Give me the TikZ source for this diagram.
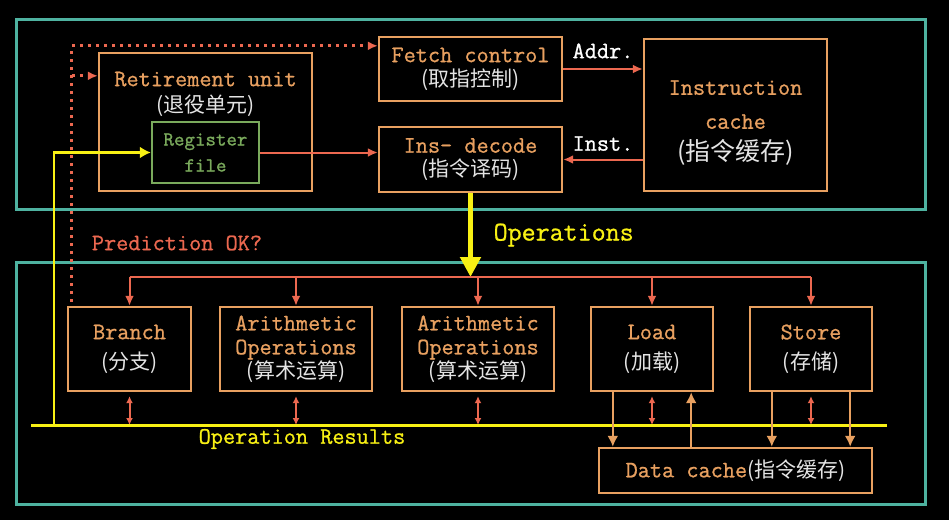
\documentclass[tikz,border=0pt]{standalone}
\usepackage{fontspec}
\setmonofont{Latin Modern Mono}[FakeBold=0.9]
\newfontfamily\cjk{Noto Sans CJK SC}
\usetikzlibrary{arrows.meta}

\definecolor{zoneteal}{RGB}{78,178,160}
\definecolor{boxorange}{RGB}{232,160,96}
\definecolor{linkred}{RGB}{236,104,80}
\definecolor{busyellow}{RGB}{248,240,20}
\definecolor{reggreen}{RGB}{122,170,92}
\definecolor{cjkgray}{RGB}{228,228,228}

\newcommand{\cntext}[2][10.5]{{\cjk\fontsize{#1}{#1}\selectfont\color{cjkgray}#2}}

\begin{document}
\begin{tikzpicture}[x=0.5pt, y=-0.5pt,
        font=\ttfamily\fontsize{11.8}{12}\selectfont,
        zone/.style={draw=zoneteal, line width=1.5pt},
        stagebox/.style={draw=boxorange, line width=1.2pt, text=boxorange, align=center, inner sep=0pt},
        regbox/.style={draw=reggreen, line width=1.2pt, text=reggreen, align=center, inner sep=0pt,
            font=\ttfamily\fontsize{10}{13}\selectfont},
        feed/.style={draw=linkred, line width=1pt, -{Latex[length=5pt,width=4.5pt]}},
        twoway/.style={draw=linkred, line width=1pt, {Latex[length=3.5pt,width=3.5pt]}-{Latex[length=3.5pt,width=3.5pt]}},
        predict/.style={draw=linkred, line width=1.5pt, dash pattern=on 1.5pt off 2.5pt, -{Latex[length=5pt,width=4.5pt]}},
        bus/.style={draw=busyellow, line width=1.5pt},
        result/.style={draw=busyellow, line width=1.2pt, -{Latex[length=5.5pt,width=6pt]}},
        mem/.style={draw=boxorange, line width=1.2pt, -{Latex[length=5.5pt,width=5.5pt]}},
        opsarrow/.style={draw=busyellow, line width=2.5pt, -{Triangle[length=10pt,width=10pt]}}
    ]
    \fill[black] (0,0) rectangle (949,520);
    \useasboundingbox (0,0) rectangle (949,520);

    % front end and back end
    \draw[zone] (16,19.5) rectangle (925,209);
    \draw[zone] (16,262) rectangle (925,504);

    \node[stagebox, minimum width=91.5pt, minimum height=32pt] (fetch) at (470.5,69)
        {Fetch control\\\cntext{(取指控制)}};
    \node[stagebox, minimum width=91.5pt, minimum height=32.5pt] (decode) at (470.5,159.5)
        {Ins- decode\\\cntext{(指令译码)}};
    \node[stagebox, minimum width=91.5pt, minimum height=76pt] (icache) at (735.5,115) {};
    \node[text=boxorange, align=center] (icachetext) at (735.5,123)
        {Instruction\\[5pt]cache\\[4pt]\cntext[12.5]{(指令缓存)}};
    \node[stagebox, minimum width=106.5pt, minimum height=69pt] (retire) at (205.5,122) {};
    \node[text=boxorange, align=center] (retiretext) at (205.5,94)
        {Retirement unit\\[1pt]\cntext{(退役单元)}};
    \node[regbox, minimum width=53.5pt, minimum height=30.5pt] (regfile) at (205.5,152.5) {Register\\file};

    % execution units
    \node[stagebox, minimum width=61.5pt, minimum height=42pt] (branch) at (129.5,349)
        {Branch\\[3pt]\cntext{(分支)}};
    \node[stagebox, minimum width=76pt, minimum height=42pt] (aluA) at (296,349)
        {Arithmetic\\Operations\\\cntext{(算术运算)}};
    \node[stagebox, minimum width=76pt, minimum height=42pt] (aluB) at (478,349)
        {Arithmetic\\Operations\\\cntext{(算术运算)}};
    \node[stagebox, minimum width=61pt, minimum height=42pt] (load) at (652,349)
        {Load\\[3pt]\cntext{(加载)}};
    \node[stagebox, minimum width=61pt, minimum height=42pt] (store) at (811,349)
        {Store\\[3pt]\cntext{(存储)}};
    \node[stagebox, minimum width=136.5pt, minimum height=22.5pt] (dcache) at (735.5,470.5)
        {Data cache\cntext{(指令缓存)}};

    \coordinate (opsend) at (470.5,277);
    \coordinate (busL) at (31,425);
    \coordinate (busR) at (887,425);
    \coordinate (tap) at (54,425);
    \coordinate (loop) at ([xshift=2.5pt,yshift=2pt]branch.north west);
    \coordinate (fetchin) at ([yshift=-5pt]fetch.north west);
    \coordinate (retirein) at ([yshift=-12pt]retire.north west);
    \coordinate (ldout) at ([xshift=11.5pt]load.south west);
    \coordinate (ldin) at ([xshift=-11.5pt]load.south east);
    \coordinate (stoutA) at ([xshift=11.5pt]store.south west);
    \coordinate (stoutB) at ([xshift=-11.5pt]store.south east);

    % prediction feedback
    \draw[predict] (loop) |- (fetchin);
    \draw[predict] (loop |- retirein) -- (retirein);
    \node[text=linkred] (predlabel) at (177,243) {Prediction OK?};

    % front end links
    \draw[result] (tap) |- (regfile.west);
    \draw[feed] (regfile.east) -- (regfile.east -| decode.west);
    \draw[feed] (fetch.east) -- (fetch.east -| icache.west)
        node[midway, above=1.5pt, text=white] {Addr.};
    \draw[feed] (decode.east -| icache.west) -- (decode.east)
        node[midway, above=0.5pt, text=white] {Inst.};
    \draw[opsarrow] (decode.south) -- (opsend)
        node[midway, right=7pt, text=busyellow, font=\ttfamily\fontsize{13.6}{14}\selectfont] {Operations};

    % dispatch and results
    \draw[draw=linkred, line width=1pt] (branch.north |- opsend) -- (store.north |- opsend);
    \foreach \u in {branch,aluA,aluB,load,store} {
        \draw[feed] (\u.north |- opsend) -- (\u.north);
        \draw[twoway] ([yshift=-2pt]\u.south) -- (\u.south |- busL);
    }
    \draw[bus] (busL) -- (busR);
    \node[text=busyellow] (reslabel) at (302,439) {Operation Results};

    % data cache
    \draw[mem] (ldout) -- (ldout |- dcache.north);
    \draw[mem] (ldin |- dcache.north) -- (ldin);
    \draw[mem] (stoutA) -- (stoutA |- dcache.north);
    \draw[mem] (stoutB) -- (stoutB |- dcache.north);
\end{tikzpicture}
\end{document}
